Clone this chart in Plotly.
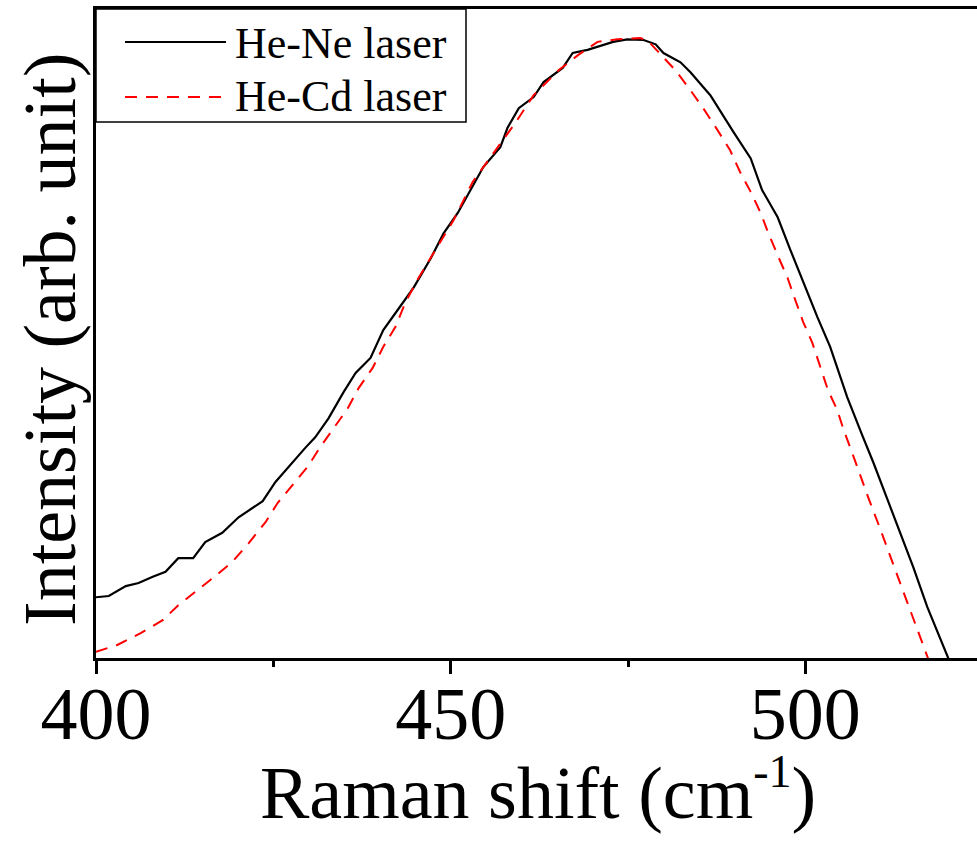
import plotly.graph_objects as go

# ---- data ----
hene_x = [400.0, 401.8, 404.2, 406.0, 408.0, 409.8, 411.6, 413.7, 415.4, 417.8, 420.1, 423.5,
          425.3, 427.1, 429.5, 430.9, 432.8, 434.9, 436.6, 438.7, 440.5, 442.5, 444.8, 447.2,
          449.0, 451.0, 452.8, 454.6, 457.0, 458.0, 459.6, 461.7, 463.1, 465.8, 467.2, 469.3,
          472.9, 474.9, 477.2, 478.9, 480.0, 482.4, 483.8, 486.6, 489.9, 492.3, 493.9, 496.1,
          497.9, 499.7, 501.7, 503.5, 505.9, 508.0, 509.6, 511.6, 513.4, 515.2, 517.2, 520.0, 520.5]
hene_y = [0.098, 0.100, 0.116, 0.121, 0.131, 0.139, 0.161, 0.161, 0.187, 0.202, 0.227, 0.253,
          0.284, 0.308, 0.339, 0.356, 0.387, 0.429, 0.460, 0.484, 0.529, 0.561, 0.598, 0.645,
          0.685, 0.718, 0.755, 0.792, 0.824, 0.855, 0.887, 0.905, 0.929, 0.952, 0.976, 0.981,
          0.994, 0.998, 0.997, 0.990, 0.976, 0.961, 0.945, 0.908, 0.848, 0.806, 0.755, 0.711,
          0.658, 0.606, 0.550, 0.502, 0.421, 0.360, 0.315, 0.255, 0.202, 0.147, 0.082, 0.002, -0.010]

hecd_x = [400.0, 403.0, 406.3, 409.4, 411.6, 414.0, 416.8, 419.2, 421.5, 423.9, 425.6, 427.7,
          429.8, 431.6, 433.5, 435.5, 437.0, 439.0, 440.5, 442.2, 443.6, 445.3, 448.1, 450.4,
          453.1, 455.3, 457.4, 459.1, 461.7, 465.2, 468.0, 470.7, 473.5, 476.7, 477.7, 479.3,
          481.7, 483.8, 485.6, 487.6, 489.4, 490.8, 492.3, 493.7, 494.8, 496.2, 497.5, 498.6,
          499.7, 501.0, 502.1, 503.2, 504.5, 505.4, 506.6, 507.8, 508.9, 510.2, 511.3, 512.4,
          513.7, 514.8, 515.9, 517.3, 517.6]
hecd_y = [0.010, 0.021, 0.040, 0.061, 0.085, 0.106, 0.132, 0.155, 0.185, 0.219, 0.250, 0.279,
          0.308, 0.340, 0.371, 0.403, 0.435, 0.468, 0.502, 0.534, 0.573, 0.610, 0.663, 0.706,
          0.768, 0.803, 0.835, 0.863, 0.908, 0.948, 0.973, 0.994, 0.998, 1.000, 0.997, 0.977,
          0.948, 0.916, 0.887, 0.852, 0.819, 0.784, 0.752, 0.718, 0.685, 0.647, 0.613, 0.577,
          0.542, 0.508, 0.469, 0.432, 0.400, 0.368, 0.331, 0.292, 0.258, 0.219, 0.185, 0.150,
          0.113, 0.077, 0.042, 0.002, -0.010]

tick_vals = [400, 450, 500]
tick_text = ["400", "450", "500"]
series_names = ["He-Ne laser", "He-Cd laser"]
x_title = "Raman shift (cm<sup><span style='font-size:46px'>-1</span></sup>)"
y_title = "Intensity (arb. unit)"

# ---- layout geometry (pixels) ----
W, H = 977, 848
L, R, T, B = 96, 0, 9, 190
PW, PH = W - L - R, H - T - B
FONT = "Liberation Serif, Times New Roman, serif"


def px_x(px):
    return (px - L) / PW


def px_y(py):
    return (H - B - py) / PH


fig = go.Figure()
fig.add_trace(go.Scatter(x=hene_x, y=hene_y, mode="lines", name=series_names[0],
                         line=dict(color="black", width=2.2), showlegend=False))
fig.add_trace(go.Scatter(x=hecd_x, y=hecd_y, mode="lines", name=series_names[1],
                         line=dict(color="#ff0000", width=2, dash="12px,9px"), showlegend=False))

# manual legend (box, samples, labels)
fig.add_shape(type="rect", xref="paper", yref="paper",
              x0=px_x(96), x1=px_x(466), y0=px_y(122), y1=px_y(9),
              line=dict(color="black", width=1.5), fillcolor="white", layer="below")
fig.add_shape(type="line", xref="paper", yref="paper",
              x0=px_x(125), x1=px_x(226), y0=px_y(42), y1=px_y(42),
              line=dict(color="black", width=2.2))
fig.add_shape(type="line", xref="paper", yref="paper",
              x0=px_x(125), x1=px_x(226), y0=px_y(97), y1=px_y(97),
              line=dict(color="#ff0000", width=2, dash="12px,9px"))
for name, py in zip(series_names, [43, 97]):
    fig.add_annotation(text=name, xref="paper", yref="paper", x=px_x(233), y=px_y(py),
                       xanchor="left", yanchor="middle", showarrow=False,
                       font=dict(family=FONT, size=44, color="black"))

# axis titles
fig.add_annotation(text=x_title, xref="paper", yref="paper", x=px_x(538), y=px_y(790),
                   xanchor="center", yanchor="middle", showarrow=False,
                   font=dict(family=FONT, size=74, color="black"))
fig.add_annotation(text=y_title, xref="paper", yref="paper", x=px_x(50), y=px_y(340),
                   xanchor="center", yanchor="middle", showarrow=False, textangle=-90,
                   font=dict(family=FONT, size=74, color="black"))

fig.update_layout(
    width=W, height=H,
    margin=dict(l=L, r=R, t=T, b=B, autoexpand=False),
    paper_bgcolor="white", plot_bgcolor="white",
    font=dict(family=FONT, color="black"),
    showlegend=False,
)
fig.update_xaxes(
    range=[400, 524.2], showgrid=False, zeroline=False,
    showline=True, linecolor="black", linewidth=2.5, mirror=True,
    ticks="outside", ticklen=13, tickwidth=2.5, tickcolor="black",
    tickvals=tick_vals, ticktext=tick_text, ticklabelstandoff=-24,
    tickfont=dict(family=FONT, size=74, color="black"),
    minor=dict(tickvals=[425, 475], ticks="outside", ticklen=6, tickwidth=2.5, tickcolor="black"),
    automargin=False,
)
fig.update_yaxes(
    range=[0, 1.047], showgrid=False, zeroline=False,
    showline=True, linecolor="black", linewidth=2.5, mirror=False,
    ticks="", showticklabels=False,
    automargin=False,
)

fig.write_html("out.html")
